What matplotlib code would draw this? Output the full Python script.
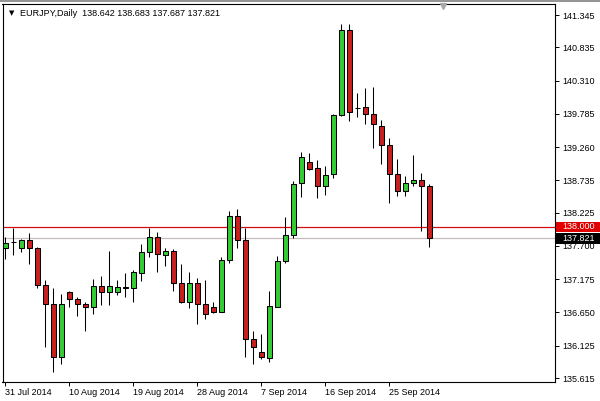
import numpy as np
import matplotlib
matplotlib.use('Agg')
import matplotlib.pyplot as plt
from matplotlib.lines import Line2D
from matplotlib.patches import Rectangle

plt.rcParams['font.family'] = ['Liberation Sans', 'DejaVu Sans']

# EURJPY daily candles, 31 Jul 2014 -> 1 Oct 2014
opens = [137.66, 137.755, 137.66, 137.79, 137.67, 137.09, 136.78, 135.94, 136.98, 136.86,
         136.78, 136.73, 137.07, 136.98, 136.98, 137.04, 137.04, 137.28, 137.60, 137.84,
         137.55, 137.62, 137.11, 136.82, 137.11, 136.79, 136.73, 136.66, 137.47, 138.17,
         137.79, 136.23, 136.03, 135.93, 136.73, 137.46, 137.87, 138.69, 139.02, 138.93,
         138.65, 138.83, 139.76, 141.11, 139.88, 139.89, 139.78, 139.60, 139.30, 138.83,
         138.57, 138.69, 138.74, 138.642]
highs = [137.84, 137.99, 137.81, 137.90, 137.68, 137.16, 137.04, 136.94, 136.99, 136.90,
         136.81, 137.18, 137.23, 137.62, 137.17, 137.27, 137.32, 137.73, 137.99, 137.92,
         137.67, 137.65, 137.41, 137.29, 137.20, 137.17, 136.81, 137.53, 138.25, 138.28,
         137.99, 136.36, 136.31, 136.99, 137.54, 138.15, 138.73, 139.18, 139.16, 139.05,
         138.96, 139.79, 141.20, 141.20, 140.11, 140.19, 140.21, 139.68, 139.41, 139.07,
         138.80, 139.14, 138.85, 138.683]
lows = [137.50, 137.55, 137.61, 137.41, 137.03, 136.10, 135.71, 135.84, 136.74, 136.59,
        136.36, 136.62, 136.77, 136.76, 136.92, 136.90, 136.81, 137.14, 137.53, 137.29,
        137.39, 136.99, 136.80, 136.72, 136.47, 136.54, 136.64, 136.66, 137.43, 137.67,
        135.95, 135.84, 135.91, 135.87, 136.73, 137.43, 137.82, 138.47, 138.90, 138.45,
        138.50, 138.78, 139.75, 139.67, 139.73, 139.62, 139.25, 138.99, 138.37, 138.49,
        138.49, 138.64, 137.94, 137.687]
closes = [137.75, 137.757, 137.79, 137.66, 137.09, 136.79, 135.94, 136.79, 136.86, 136.78,
          136.73, 137.07, 136.98, 137.07, 137.05, 137.044, 137.29, 137.60, 137.84, 137.58,
          137.62, 137.11, 136.82, 137.11, 136.78, 136.62, 136.66, 137.47, 138.17, 137.80,
          136.23, 136.10, 135.94, 136.75, 137.46, 137.87, 138.67, 139.10, 138.91, 138.65,
          138.82, 139.77, 141.11, 139.81, 139.885, 139.78, 139.62, 139.30, 138.83, 138.56,
          138.69, 138.74, 138.65, 137.821]

date_ticks = [0, 8, 16, 24, 32, 40, 48]
date_labels = ['31 Jul 2014', '10 Aug 2014', '19 Aug 2014', '28 Aug 2014',
               '7 Sep 2014', '16 Sep 2014', '25 Sep 2014']
price_ticks = [141.345, 140.835, 140.310, 139.785, 139.260, 138.735, 138.225,
               137.700, 137.175, 136.650, 136.125, 135.615]
level = 138.000
bid = 137.821

W, H = 600, 401
fig = plt.figure(figsize=(W / 100, H / 100), dpi=100)
ax = fig.add_axes([2.5 / W, 1 - 382 / H, (555 - 2.5) / W, (382 - 4) / H])

x = np.arange(len(opens))
o = np.array(opens); c = np.array(closes)
up = c >= o
cols = np.where(up, '#35cc35', '#c8201e')

# wicks then bodies
ax.vlines(x, lows, highs, color='black', lw=0.75, zorder=2)
ax.bar(x, c - o, bottom=o, width=0.55, color=cols, edgecolor='black', linewidth=0.75, zorder=3)

# horizontal levels
ax.axhline(level, color='#d01010', lw=0.9, zorder=1)
ax.axhline(bid, color='#c9b9bd', lw=0.9, zorder=1)

ax.set_xlim(-0.35, 68.7)
ax.set_ylim(135.552, 141.519)

for s in ax.spines.values():
    s.set_linewidth(0.8)
    s.set_color('black')

ax.yaxis.tick_right()
ax.set_yticks(price_ticks)
ax.set_yticklabels([f'{v:.3f}' for v in price_ticks])
ax.tick_params(axis='y', direction='out', length=3, width=0.7, pad=2, labelsize=6.5, left=False)
ax.set_xticks(date_ticks)
ax.set_xticklabels(date_labels, ha='left')
ax.tick_params(axis='x', direction='out', length=3, width=0.7, pad=1.5, labelsize=6.5)

# price boxes on the right scale, full width of the scale
fig.canvas.draw()
to_fig = fig.transFigure.inverted()
for val, fc in [(level, '#e00000'), (bid, 'black')]:
    ypix = ax.transData.transform((0, val))[1]
    y0 = to_fig.transform((0, ypix - 5.3))[1]
    fig.add_artist(Rectangle((556 / W, y0), 44 / W, 10.6 / H, facecolor=fc, edgecolor='none',
                             transform=fig.transFigure, zorder=4))
    fig.text(562 / W, to_fig.transform((0, ypix))[1], f'{val:.3f}', fontsize=6.5, color='white',
             ha='left', va='center', zorder=5)

# header text
fig.text(9 / W, 1 - 13 / H, '\u25bc', fontsize=5, va='center', ha='left', family=['DejaVu Sans'])
fig.text(20.5 / W, 1 - 13 / H,
         f'EURJPY,Daily  {opens[-1]:.3f} {highs[-1]:.3f} {lows[-1]:.3f} {closes[-1]:.3f}',
         fontsize=6.5, va='center', ha='left')

# chart shift marker and top border
fig.add_artist(Line2D([443 / W], [1 - 6 / H], marker='v', color='#a8a8a8', markersize=5, lw=0))
fig.add_artist(Line2D([0, 1], [1 - 0.5 / H, 1 - 0.5 / H], color='#808080', lw=1.2))

fig.savefig('out.png', dpi=100)
